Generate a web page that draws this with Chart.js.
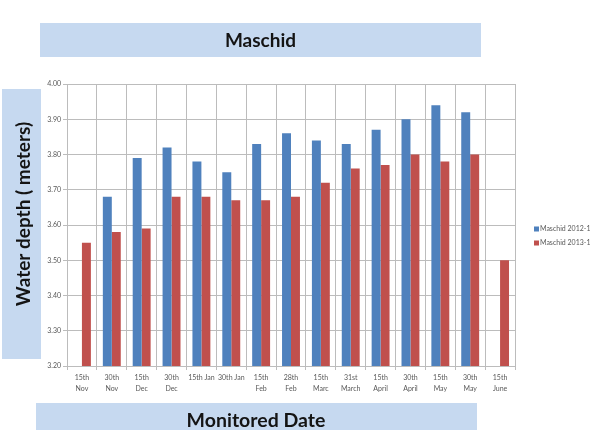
<!DOCTYPE html>
<html>
<head>
<meta charset="utf-8">
<script src="https://cdn.jsdelivr.net/npm/chart.js@4/dist/chart.umd.min.js"></script>
<style>
  html, body { margin: 0; padding: 0; background: #ffffff; }
  #wrap { width: 590px; height: 430px; position: relative; }
</style>
</head>
<body>
<div id="wrap"><canvas id="c" width="590" height="430"></canvas></div>
<script>
// ---- data ----
const categories = [
  ["15th", "Nov"], ["30th", "Nov"], ["15th", "Dec"], ["30th", "Dec"],
  "15th Jan", "30th Jan", ["15th", "Feb"], ["28th", "Feb"],
  ["15th", "Marc"], ["31st", "March"], ["15th", "April"], ["30th", "April"],
  ["15th", "May"], ["30th", "May"], ["15th", "June"]
];
const series2012 = [null, 3.68, 3.79, 3.82, 3.78, 3.75, 3.83, 3.86, 3.84, 3.83, 3.87, 3.90, 3.94, 3.92, null];
const series2013 = [3.55, 3.58, 3.59, 3.68, 3.68, 3.67, 3.67, 3.68, 3.72, 3.76, 3.77, 3.80, 3.78, 3.80, 3.50];
const seriesNames = ["Maschid 2012-13", "Maschid 2013-14"];
const yMin = 3.2, yMax = 4.0, yStep = 0.1;
const chartTitle = "Maschid";
const xTitle = "Monitored Date";
const yTitle = "Water depth ( meters)";

const BLUE = "#4f81bd", RED = "#c0504d", BAND = "#c6d9f0", GRID = "#bcbcbc";

const bandsPlugin = {
  id: "bands",
  beforeDraw(chart) {
    const ctx = chart.ctx;
    ctx.save();
    ctx.fillStyle = "#ffffff";
    ctx.fillRect(0, 0, chart.width, chart.height);
    ctx.fillStyle = BAND;
    // title band
    ctx.fillRect(40, 23, 441, 34);
    // x title band
    ctx.fillRect(36, 403, 441, 30);
    // y title band
    ctx.fillRect(2, 89, 39, 270);
    ctx.fillStyle = "#141414";
    ctx.textAlign = "center";
    ctx.textBaseline = "middle";
    ctx.font = "bold 19px Lato";
    ctx.fillText(chartTitle, 260.5, 41);
    ctx.font = "bold 19.5px Lato";
    ctx.fillText(xTitle, 256, 421);
    ctx.save();
    ctx.translate(24, 214);
    ctx.rotate(-Math.PI / 2);
    ctx.font = "bold 19px Lato";
    ctx.fillText(yTitle, 0, 0);
    ctx.restore();
    ctx.restore();
  },
  afterDraw(chart) {
    const ctx = chart.ctx;
    ctx.save();
    ctx.font = "7px Lato";
    ctx.textBaseline = "middle";
    ctx.textAlign = "left";
    chart.data.datasets.forEach((ds, i) => {
      const y = 229 + i * 14;
      ctx.fillStyle = ds.backgroundColor;
      ctx.fillRect(534, y - 2.5, 5, 5);
      ctx.fillStyle = "#595959";
      ctx.fillText(ds.label, 540, y);
    });
    ctx.restore();
  }
};

new Chart(document.getElementById("c"), {
  type: "bar",
  data: {
    labels: categories,
    datasets: [
      { label: seriesNames[0], data: series2012, backgroundColor: BLUE, borderWidth: 0 },
      { label: seriesNames[1], data: series2013, backgroundColor: RED, borderWidth: 0 }
    ]
  },
  options: {
    responsive: false,
    animation: false,
    devicePixelRatio: 1,
    layout: { padding: { left: 0, right: 75, top: 84, bottom: 0 } },
    datasets: { bar: { categoryPercentage: 0.6, barPercentage: 1.0 } },
    plugins: { legend: { display: false }, tooltip: { enabled: false }, title: { display: false } },
    scales: {
      x: {
        grid: { color: GRID, offset: true, tickLength: 4, lineWidth: 1 },
        border: { color: GRID },
        ticks: { font: { family: "Lato", size: 7, lineHeight: 1.55 }, color: "#595959", padding: 2, maxRotation: 0, autoSkip: false },
        afterFit(s) { s.height = 64; }
      },
      y: {
        min: yMin, max: yMax,
        grid: { color: GRID, tickLength: 4, lineWidth: 1 },
        border: { color: GRID },
        ticks: {
          stepSize: yStep,
          font: { family: "Lato", size: 7 },
          color: "#595959",
          padding: 2,
          callback: v => Number(v).toFixed(2)
        },
        afterFit(s) { s.width = 67; }
      }
    }
  },
  plugins: [bandsPlugin]
});
</script>
</body>
</html>
